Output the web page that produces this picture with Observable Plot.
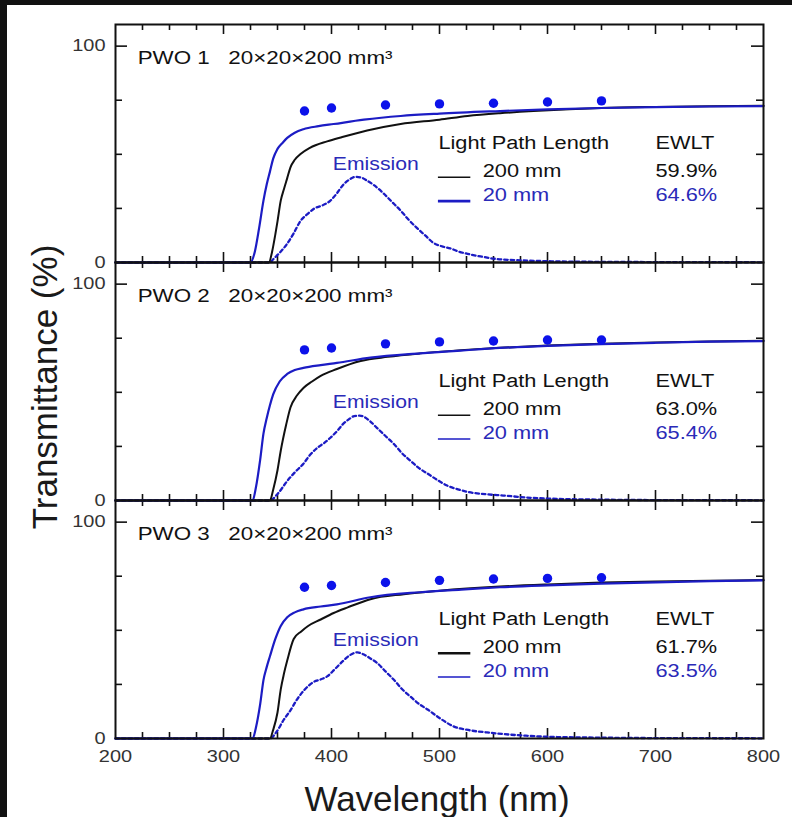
<!DOCTYPE html>
<html>
<head>
<meta charset="utf-8">
<script src="https://cdn.jsdelivr.net/npm/d3@7"></script>
<script src="https://cdn.jsdelivr.net/npm/@observablehq/plot@0.6"></script>
<style>
  html, body { margin: 0; padding: 0; background: #111; width: 792px; height: 817px; overflow: hidden; }
  #page { position: absolute; left: 7px; top: 5px; width: 785px; height: 812px; background: #fff; overflow: hidden; }
  #chart { position: absolute; left: 0; top: 0; }
  .axtitle { position: absolute; font-family: 'Liberation Sans', Arial, sans-serif; font-size: 35px; color: #1a1a1a; white-space: nowrap; line-height: 1; }
  #ylab { left: 37px; top: 382px; transform: translate(-50%, -50%) rotate(-90deg); }
  #xlab { left: 430px; top: 793px; transform: translate(-50%, -50%); }
</style>
</head>
<body>
<div id="page">
  <div id="chart"></div>
  <div id="ylab" class="axtitle">Transmittance (%)</div>
  <div id="xlab" class="axtitle">Wavelength (nm)</div>
</div>
<script>
// ---------- data ----------
const panels = ["PWO 1", "PWO 2", "PWO 3"];
const titles = ["PWO 1   20×20×200 mm³", "PWO 2   20×20×200 mm³", "PWO 3   20×20×200 mm³"];
const legendHeader = "Light Path Length";
const ewltHeader = "EWLT";
const pathLabels = ["200 mm", "20 mm"];
const ewlt200 = ["59.9%", "63.0%", "61.7%"];
const ewlt20 = ["64.6%", "65.4%", "63.5%"];
const emissionLabel = "Emission";

const xTickLabels = [200, 300, 400, 500, 600, 700, 800];
const yTickLabels = [0, 100];
const xMajorTicks = [300, 400, 500, 600, 700];
const xMinorTicks = [225, 250, 275, 325, 350, 375, 425, 450, 475, 525, 550, 575, 625, 650, 675, 725, 750, 775];
const yMajorTicks = [100];
const yMinorTicks = [25, 50, 75];

// [wavelength nm, transmittance %]
const p1_20mm = [[200,0],[325,0],[329,5],[333,16],[337,28.6],[340,36],[343,42],[346,48],[350,52.5],[355,55.5],[359,57.6],[366,60],[374,61.6],[388,63],[402,64],[430,66],[464,67.7],[500,68.8],[556,70],[600,70.8],[650,71.4],[700,71.8],[750,72.1],[800,72.3]];
const p1_200mm = [[200,0],[342,0],[345,5],[348,13],[350,19],[353,28.6],[356,34],[359,39],[362,44],[366,47.5],[371,50],[380,53],[396,56],[410,58],[433,61],[464,64],[500,66],[526,67.7],[556,69],[587,70],[620,70.8],[650,71.4],[700,71.9],[750,72.2],[800,72.4]];
const p2_20mm = [[200,0],[327,0],[330,6],[334,19],[337,30.9],[340,38],[343,44],[346,49],[352,55],[359,58.5],[366,60.3],[374,61.3],[390,62.6],[405,63.6],[436,66],[482,68],[520,69.3],[556,70.5],[600,71.5],[650,72.3],[700,72.9],[750,73.4],[800,73.7]];
const p2_200mm = [[200,0],[343,0],[346,5],[350,14],[353,23],[358,35],[362,43],[368,48.5],[374,52],[382,55],[390,57.6],[405,60.8],[427,64.5],[452,66.4],[482,68],[520,69.5],[556,70.6],[600,71.6],[650,72.4],[700,73],[750,73.5],[800,73.8]];
const p3_20mm = [[200,0],[327,0],[330,5],[334,16],[337,27],[340,33],[343,38],[348,46],[353,52],[359,56],[366,58.3],[374,59.7],[390,61],[405,62],[436,65.3],[482,67.6],[520,68.8],[556,69.9],[600,70.8],[650,71.6],[700,72.2],[750,72.7],[800,73.1]];
const p3_200mm = [[200,0],[343,0],[346,4],[350,12],[353,22.7],[356,30],[359,36],[365,46],[372,49.5],[378,51.9],[390,55],[402,58],[415,60.6],[436,64.4],[467,66.7],[500,68.3],[556,70.2],[600,71.2],[650,72.1],[700,72.6],[750,72.9],[800,73.2]];

const p1_emission = [[200,0],[343,0],[346,1.5],[352,4.5],[359,8.7],[365,13.5],[371,19],[378,22.5],[384,24.9],[392,26.5],[399,28.6],[405,32],[411,36],[417,38.5],[422,39.6],[428,39.2],[433,37.8],[440,35.5],[448,32],[456,28],[464,24],[471,20],[479,16],[487,12.4],[494,9.2],[502,7.5],[510,6.5],[518,5],[526,4],[538,2.8],[550,1.8],[575,1.0],[600,0.6],[650,0.3],[700,0.2],[800,0.1]];
const p2_emission = [[200,0],[343,0],[350,3],[359,9],[366,13],[374,17],[380,21],[387,24.4],[393,26.5],[399,29],[405,32],[411,35.5],[416,37.5],[421,39],[426,39.2],[430,38.7],[436,36.5],[442,33.6],[450,29.8],[458,26],[465,22],[473,18.4],[481,15],[489,12.4],[498,9.5],[507,6.9],[518,5],[529,3.7],[545,2.8],[559,2.3],[580,1.4],[600,0.9],[650,0.4],[700,0.2],[800,0.1]];
const p3_emission = [[200,0],[343,0],[349,3],[356,8.8],[362,13],[368,18],[375,22.5],[383,26],[390,27.3],[396,28.7],[403,32],[410,35.5],[417,38.5],[424,39.8],[430,38.8],[436,37],[442,35],[450,31],[458,27],[465,23],[473,19.4],[481,16],[489,13.4],[500,9.5],[513,5.6],[528,3.8],[544,2.8],[560,2],[580,1.3],[600,0.8],[650,0.4],[700,0.2],[800,0.1]];

const dotNm = [375, 400, 450, 500, 550, 600, 650];
const p1_dots = [70.0, 71.4, 72.8, 73.3, 73.6, 74.2, 74.7];
const p2_dots = [69.6, 70.5, 72.4, 73.3, 73.7, 74.2, 74.2];
const p3_dots = [69.9, 70.7, 72.1, 73.1, 73.7, 74.0, 74.3];

// ---------- styles / layout ----------
const FONT = "'Liberation Sans', Arial, Helvetica, sans-serif";
const BLUE = "#1c1cc4";
const DOT_BLUE = "#0c12ea";
const TEXT_BLUE = "#2a2ab8";
const BLACK = "#111";
const W = 785, H = 812;
const ML = 108, MR = 29, MT = 18, MB = 79;
const Y_MAX = 110;
const pxPerY = ((H - MT - MB) / 3) / Y_MAX;
const pxPerX = (W - ML - MR) / 600;
const TEXT_STRETCH = 1.21;
// annotation anchors in data units
const pos = {
  title: [220.5, 94.6],
  emission: [441, 45.5],
  header: [499, 54.9],
  label200: [540, 42.4],
  label20: [540, 30.9],
  ewlt: [700, 54.9],
  sample200: [499, 529, 39.4],
  sample20: [499, 529, 28.4]
};
const sampleWidth200 = [1.4, 1.4, 2.6];
const sampleWidth20 = [2.8, 1.4, 1.4];

// ---------- tables ----------
const curves = [];
function addCurve(panel, series, pts) { for (const [nm, t] of pts) curves.push({panel, series, nm, t}); }
addCurve(panels[0], "20", p1_20mm); addCurve(panels[0], "200", p1_200mm); addCurve(panels[0], "em", p1_emission);
addCurve(panels[1], "20", p2_20mm); addCurve(panels[1], "200", p2_200mm); addCurve(panels[1], "em", p2_emission);
addCurve(panels[2], "20", p3_20mm); addCurve(panels[2], "200", p3_200mm); addCurve(panels[2], "em", p3_emission);

const dots = [];
[p1_dots, p2_dots, p3_dots].forEach((arr, i) => arr.forEach((v, j) => dots.push({panel: panels[i], nm: dotNm[j], t: v})));

const panelRows = panels.map((p, i) => ({
  panel: p, title: titles[i], e200: ewlt200[i], e20: ewlt20[i], w200: sampleWidth200[i], w20: sampleWidth20[i]
}));

const sel = (s) => curves.filter(d => d.series === s);
const majX = 10 / pxPerY, minX = 6 / pxPerY;
const majY = 12 / pxPerX, minY = 7 / pxPerX;

const chart = Plot.plot({
  width: W, height: H,
  marginLeft: ML, marginRight: MR, marginTop: MT, marginBottom: MB,
  x: {domain: [200, 800]},
  y: {domain: [0, Y_MAX]},
  fy: {domain: panels, padding: 0, axis: null},
  style: {fontFamily: FONT, background: "transparent", overflow: "visible"},
  marks: [
    // inward ticks
    Plot.ruleX(xMajorTicks, {x: d => d, y1: 0, y2: majX, stroke: BLACK, strokeWidth: 1.6}),
    Plot.ruleX(xMajorTicks, {x: d => d, y1: Y_MAX, y2: Y_MAX - majX, stroke: BLACK, strokeWidth: 1.6}),
    Plot.ruleX(xMinorTicks, {x: d => d, y1: 0, y2: minX, stroke: BLACK, strokeWidth: 1.6}),
    Plot.ruleX(xMinorTicks, {x: d => d, y1: Y_MAX, y2: Y_MAX - minX, stroke: BLACK, strokeWidth: 1.6}),
    Plot.ruleY(yMajorTicks, {y: d => d, x1: 200, x2: 200 + majY, stroke: BLACK, strokeWidth: 1.6}),
    Plot.ruleY(yMajorTicks, {y: d => d, x1: 800, x2: 800 - majY, stroke: BLACK, strokeWidth: 1.6}),
    Plot.ruleY(yMinorTicks, {y: d => d, x1: 200, x2: 200 + minY, stroke: BLACK, strokeWidth: 1.6}),
    Plot.ruleY(yMinorTicks, {y: d => d, x1: 800, x2: 800 - minY, stroke: BLACK, strokeWidth: 1.6}),
    // curves
    Plot.line(sel("em"), {x: "nm", y: "t", z: "panel", fy: "panel", stroke: BLUE, strokeWidth: 2.3, strokeDasharray: "3.5,3", curve: "monotone-x"}),
    Plot.line(sel("200"), {x: "nm", y: "t", z: "panel", fy: "panel", stroke: BLACK, strokeWidth: 2, curve: "monotone-x"}),
    Plot.line(sel("20"), {x: "nm", y: "t", z: "panel", fy: "panel", stroke: BLUE, strokeWidth: 2.2, curve: "monotone-x"}),
    Plot.dot(dots, {x: "nm", y: "t", fy: "panel", r: 4.7, fill: DOT_BLUE, stroke: null}),
    // frame
    Plot.frame({stroke: BLACK, strokeWidth: 2}),
    // axes
    Plot.axisY({ticks: yTickLabels, tickSize: 0, tickPadding: 10, fontSize: 16.5, fill: "#333", label: null}),
    Plot.axisX({ticks: xTickLabels, tickSize: 0, tickPadding: 12, fontSize: 16.5, fill: "#333", label: null}),
    // annotations
    Plot.text(panelRows, {x: pos.title[0], y: pos.title[1], fy: "panel", text: "title", textAnchor: "start", fontSize: 18.5, fill: BLACK}),
    Plot.text(panelRows, {x: pos.emission[0], y: pos.emission[1], fy: "panel", text: () => emissionLabel, textAnchor: "middle", fontSize: 17.5, fill: TEXT_BLUE}),
    Plot.text(panelRows, {x: pos.header[0], y: pos.header[1], fy: "panel", text: () => legendHeader, textAnchor: "start", fontSize: 18, fill: BLACK}),
    Plot.text(panelRows, {x: pos.label200[0], y: pos.label200[1], fy: "panel", text: () => pathLabels[0], textAnchor: "start", fontSize: 18, fill: BLACK}),
    Plot.text(panelRows, {x: pos.label20[0], y: pos.label20[1], fy: "panel", text: () => pathLabels[1], textAnchor: "start", fontSize: 18, fill: TEXT_BLUE}),
    Plot.text(panelRows, {x: pos.ewlt[0], y: pos.header[1], fy: "panel", text: () => ewltHeader, textAnchor: "start", fontSize: 18, fill: BLACK}),
    Plot.text(panelRows, {x: pos.ewlt[0], y: pos.label200[1], fy: "panel", text: "e200", textAnchor: "start", fontSize: 18, fill: BLACK}),
    Plot.text(panelRows, {x: pos.ewlt[0], y: pos.label20[1], fy: "panel", text: "e20", textAnchor: "start", fontSize: 18, fill: TEXT_BLUE}),
    Plot.ruleY(panelRows, {y: pos.sample200[2], x1: pos.sample200[0], x2: pos.sample200[1], fy: "panel", stroke: BLACK, strokeWidth: "w200"}),
    Plot.ruleY(panelRows, {y: pos.sample20[2], x1: pos.sample20[0], x2: pos.sample20[1], fy: "panel", stroke: BLUE, strokeWidth: "w20"})
  ]
});

// the reference's in-plot lettering is horizontally wide; stretch glyphs about their anchor
chart.querySelectorAll("text").forEach(t => {
  const tr = t.getAttribute("transform");
  if (tr) {
    t.setAttribute("transform", tr + ` scale(${TEXT_STRETCH},1)`);
  } else {
    const x = +(t.getAttribute("x") || 0);
    t.setAttribute("x", 0);
    t.setAttribute("transform", `translate(${x},0) scale(${TEXT_STRETCH},1)`);
  }
});

document.getElementById("chart").appendChild(chart);
</script>
</body>
</html>
